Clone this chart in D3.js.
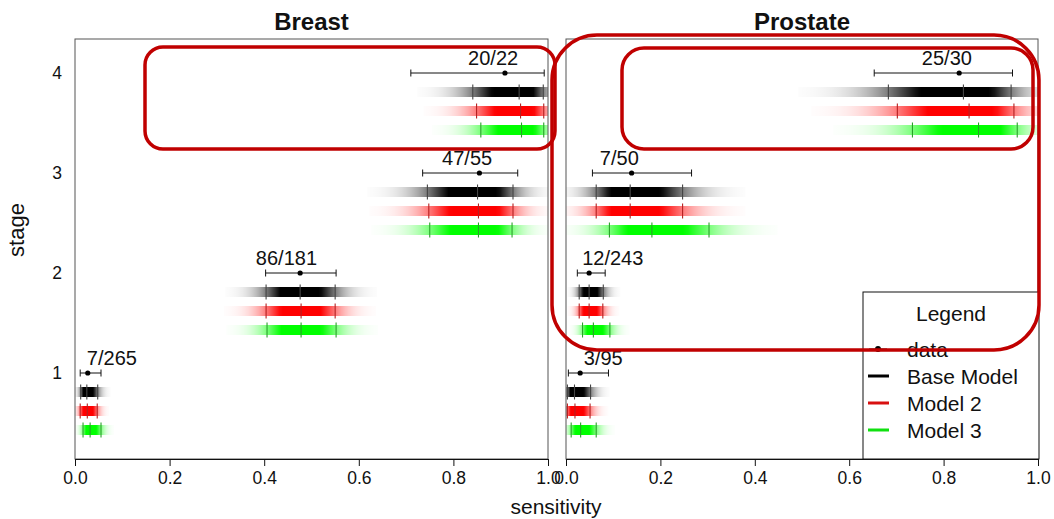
<!DOCTYPE html>
<html>
<head>
    <title>Sensitivity by stage</title>
    <script src="https://d3js.org/d3.v7.min.js"></script>
    <style>
        body { margin: 0; background: #fff; }
        text { font-family: "Liberation Sans", Arial, sans-serif; fill: #111; }
    </style>
</head>
<body>
    <svg id="plot" width="1054" height="519"></svg>

    <script>
        // stages on the y axis, sensitivity on the x axis
        const stages = [1, 2, 3, 4];
        const xTicks = [0, 0.2, 0.4, 0.6, 0.8, 1.0];
        const models = ['Base Model', 'Model 2', 'Model 3'];

        // Breast: observed counts and interval
        const breastLabels = ['7/265', '86/181', '47/55', '20/22'];
        const breastObs = [0.027, 0.476, 0.855, 0.909];
        const breastObsLo = [0.011, 0.403, 0.735, 0.710];
        const breastObsHi = [0.055, 0.552, 0.936, 0.992];
        const breastLabelX = [0.078, 0.447, 0.829, 0.884];
        // Breast: model estimates (lower, median, upper)
        const breastBaseLo = [0.012, 0.404, 0.745, 0.841];
        const breastBaseMed = [0.025, 0.476, 0.851, 0.939];
        const breastBaseHi = [0.048, 0.550, 0.926, 0.990];
        const breastM2Lo = [0.011, 0.404, 0.748, 0.849];
        const breastM2Med = [0.026, 0.478, 0.853, 0.942];
        const breastM2Hi = [0.047, 0.550, 0.926, 0.991];
        const breastM3Lo = [0.017, 0.406, 0.750, 0.858];
        const breastM3Med = [0.032, 0.478, 0.853, 0.944];
        const breastM3Hi = [0.055, 0.552, 0.924, 0.991];

        // Prostate
        const prostateLabels = ['3/95', '12/243', '7/50', '25/30'];
        const prostateObs = [0.030, 0.049, 0.139, 0.833];
        const prostateObsLo = [0.005, 0.024, 0.056, 0.653];
        const prostateObsHi = [0.090, 0.083, 0.266, 0.946];
        const prostateLabelX = [0.079, 0.099, 0.113, 0.807];
        const prostateBaseLo = [0.003, 0.028, 0.064, 0.683];
        const prostateBaseMed = [0.018, 0.049, 0.136, 0.842];
        const prostateBaseHi = [0.052, 0.079, 0.247, 0.943];
        const prostateM2Lo = [0.003, 0.028, 0.064, 0.702];
        const prostateM2Med = [0.019, 0.049, 0.136, 0.854];
        const prostateM2Hi = [0.051, 0.078, 0.247, 0.949];
        const prostateM3Lo = [0.011, 0.035, 0.092, 0.734];
        const prostateM3Med = [0.031, 0.058, 0.182, 0.874];
        const prostateM3Hi = [0.064, 0.093, 0.303, 0.956];

        const barColors = ['#000000', '#ff0000', '#00ff00'];
        const tickColors = ['#444444', '#b52020', '#2aa02a'];
        const legendColors = ['#000000', '#d81010', '#10e010'];

        const panels = [
            {
                title: 'Breast', left: 75, right: 548,
                labels: breastLabels, obs: breastObs, obsLo: breastObsLo, obsHi: breastObsHi, labelX: breastLabelX,
                lo: [breastBaseLo, breastM2Lo, breastM3Lo],
                med: [breastBaseMed, breastM2Med, breastM3Med],
                hi: [breastBaseHi, breastM2Hi, breastM3Hi]
            },
            {
                title: 'Prostate', left: 566, right: 1038,
                labels: prostateLabels, obs: prostateObs, obsLo: prostateObsLo, obsHi: prostateObsHi, labelX: prostateLabelX,
                lo: [prostateBaseLo, prostateM2Lo, prostateM3Lo],
                med: [prostateBaseMed, prostateM2Med, prostateM3Med],
                hi: [prostateBaseHi, prostateM2Hi, prostateM3Hi]
            }
        ];

        const plotTop = 39, plotBottom = 459;
        const yScale = d3.scaleLinear().domain([1, 4]).range([373, 73]);
        const rowStep = 0.19; // model rows sit under the data row

        const svg = d3.select('#plot');
        const defs = svg.append('defs');

        panels.forEach(function (p, pi) {
            const xScale = d3.scaleLinear().domain([0, 1]).range([p.left, p.right]);
            const g = svg.append('g');

            defs.append('clipPath').attr('id', 'clip' + pi)
                .append('rect')
                .attr('x', p.left).attr('y', plotTop)
                .attr('width', p.right - p.left).attr('height', plotBottom - plotTop);

            const inner = g.append('g').attr('clip-path', 'url(#clip' + pi + ')');

            // shaded model bars
            models.forEach(function (m, mi) {
                stages.forEach(function (s, si) {
                    const lo = p.lo[mi][si], med = p.med[mi][si], hi = p.hi[mi][si];
                    const lw = med - lo, hw = hi - med;
                    const x0 = med - 2.2 * lw, x1 = med + 2.2 * hw;
                    const y = yScale(s - rowStep * (mi + 1));
                    const id = 'grad' + pi + '_' + mi + '_' + si;

                    const grad = defs.append('linearGradient').attr('id', id)
                        .attr('gradientUnits', 'userSpaceOnUse')
                        .attr('x1', xScale(x0)).attr('x2', xScale(x1))
                        .attr('y1', 0).attr('y2', 0);
                    d3.range(0, 45).forEach(function (k) {
                        const x = x0 + (x1 - x0) * k / 44;
                        const z = x < med ? (med - x) / lw : (x - med) / hw;
                        const op = Math.min(1, 1.4 * Math.exp(-z * z));
                        grad.append('stop')
                            .attr('offset', (k / 44 * 100) + '%')
                            .attr('stop-color', barColors[mi])
                            .attr('stop-opacity', op);
                    });

                    inner.append('rect')
                        .attr('x', xScale(x0)).attr('y', y - 5)
                        .attr('width', xScale(x1) - xScale(x0)).attr('height', 10)
                        .attr('fill', 'url(#' + id + ')');

                    [lo, med, hi].forEach(function (v) {
                        inner.append('line')
                            .attr('x1', xScale(v)).attr('x2', xScale(v))
                            .attr('y1', y - 7.5).attr('y2', y + 7.5)
                            .attr('stroke', tickColors[mi])
                            .attr('stroke-width', 1.1);
                    });
                });
            });

            // observed data with intervals
            stages.forEach(function (s, si) {
                const y = yScale(s);
                g.append('line')
                    .attr('x1', xScale(p.obsLo[si])).attr('x2', xScale(p.obsHi[si]))
                    .attr('y1', y).attr('y2', y)
                    .attr('stroke', '#111').attr('stroke-width', 1);
                [p.obsLo[si], p.obsHi[si]].forEach(function (v) {
                    g.append('line')
                        .attr('x1', xScale(v)).attr('x2', xScale(v))
                        .attr('y1', y - 3.5).attr('y2', y + 3.5)
                        .attr('stroke', '#111').attr('stroke-width', 1);
                });
                g.append('circle')
                    .attr('cx', xScale(p.obs[si])).attr('cy', y).attr('r', 2.6)
                    .attr('fill', '#000');
                g.append('text')
                    .attr('x', xScale(p.labelX[si])).attr('y', y - 8)
                    .attr('text-anchor', 'middle')
                    .style('font-size', '20px')
                    .text(p.labels[si]);
            });

            // panel box
            g.append('rect')
                .attr('x', p.left).attr('y', plotTop)
                .attr('width', p.right - p.left).attr('height', plotBottom - plotTop)
                .attr('fill', 'none').attr('stroke', '#555').attr('stroke-width', 1);

            // x axis
            const xAxis = d3.axisBottom(xScale).tickValues(xTicks)
                .tickFormat(d3.format('.1f')).tickSize(7).tickPadding(6);
            const ax = g.append('g').attr('transform', 'translate(0,' + plotBottom + ')').call(xAxis);
            ax.select('.domain').attr('stroke', '#111');
            ax.selectAll('.tick line').attr('stroke', '#111');
            ax.selectAll('text').style('font-size', '17.5px')
                .style('font-family', '"Liberation Sans", Arial, sans-serif').attr('fill', '#111');

            g.append('text')
                .attr('x', (p.left + p.right) / 2).attr('y', 30)
                .attr('text-anchor', 'middle')
                .style('font-size', '24px').style('font-weight', 'bold')
                .text(p.title);
        });

        // y axis labels (left panel only)
        stages.forEach(function (s) {
            svg.append('text')
                .attr('x', 57).attr('y', yScale(s) + 6)
                .attr('text-anchor', 'middle')
                .style('font-size', '17.5px')
                .text(s);
        });
        svg.append('text')
            .attr('transform', 'translate(24,230) rotate(-90)')
            .attr('text-anchor', 'middle')
            .style('font-size', '22px')
            .text('stage');
        svg.append('text')
            .attr('x', 556).attr('y', 514)
            .attr('text-anchor', 'middle')
            .style('font-size', '21px')
            .text('sensitivity');

        // legend
        const lg = svg.append('g');
        lg.append('rect')
            .attr('x', 863).attr('y', 292).attr('width', 176).attr('height', 167)
            .attr('fill', '#fff').attr('stroke', '#111').attr('stroke-width', 1);
        lg.append('text')
            .attr('x', 951).attr('y', 321).attr('text-anchor', 'middle')
            .style('font-size', '21px').text('Legend');
        const legendItems = ['data'].concat(models);
        legendItems.forEach(function (name, i) {
            const y = 357 + i * 27;
            if (i === 0) {
                lg.append('line').attr('x1', 869).attr('x2', 887).attr('y1', y - 8).attr('y2', y - 8)
                    .attr('stroke', '#111').attr('stroke-width', 1);
                lg.append('circle').attr('cx', 878).attr('cy', y - 8).attr('r', 3).attr('fill', '#000');
            } else {
                lg.append('line').attr('x1', 868).attr('x2', 889).attr('y1', y - 8).attr('y2', y - 8)
                    .attr('stroke', legendColors[i - 1]).attr('stroke-width', 3);
            }
            lg.append('text').attr('x', 907).attr('y', y)
                .style('font-size', '21px').text(name);
        });

        // red highlight boxes drawn over the chart
        const marks = [
            { x: 145, y: 47, w: 410, h: 102, r: 18 },
            { x: 552, y: 35, w: 487, h: 315, r: 45 },
            { x: 622, y: 48, w: 411, h: 101, r: 22 }
        ];
        svg.append('g').selectAll('rect')
            .data(marks)
            .enter()
            .append('rect')
            .attr('x', d => d.x).attr('y', d => d.y)
            .attr('width', d => d.w).attr('height', d => d.h)
            .attr('rx', d => d.r).attr('ry', d => d.r)
            .attr('fill', 'none')
            .attr('stroke', '#c00000')
            .attr('stroke-width', 3.5);
    </script>
</body>
</html>
